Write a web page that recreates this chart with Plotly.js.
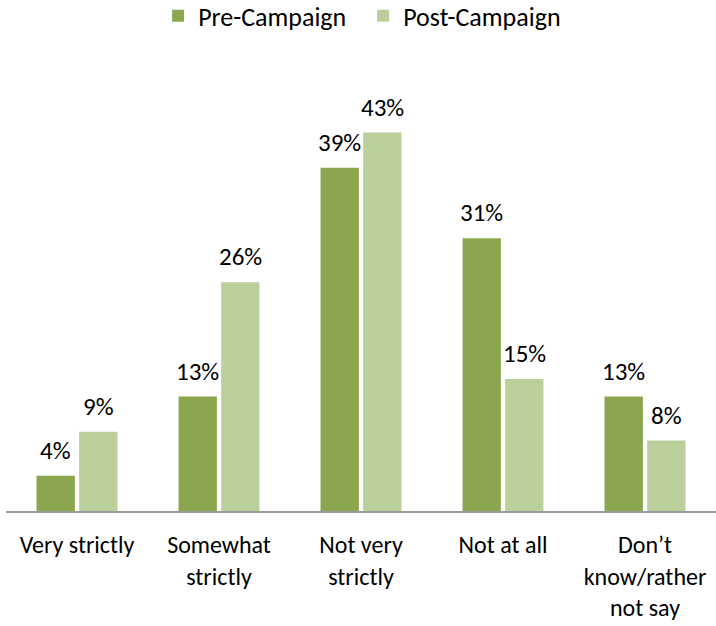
<!DOCTYPE html>
<html>
<head>
<meta charset="utf-8">
<script src="https://cdn.plot.ly/plotly-3.0.1.min.js"></script>
<style>html,body{margin:0;padding:0;background:#fff;}#chart{width:716px;height:626px;}</style>
</head>
<body>
<div id="chart"></div>
<script>
const categories = ["Very strictly", "Somewhat<br>strictly", "Not very<br>strictly", "Not at all", "Don’t<br>know/rather<br>not say"];
const preCampaign = [4, 13, 39, 31, 13];
const postCampaign = [9, 26, 43, 15, 8];
const seriesNames = ["Pre-Campaign", "Post-Campaign"];
const colors = ["#8AA64E", "#BAD09A"];
const fontFam = "Carlito, Lato, 'Open Sans', sans-serif";

const bargap = 0.4, bargroupgap = 0.1;
const slot = (1 - bargap) / 2;
const offsets = [-slot / 2, slot / 2];

const mk = (vals, i) => ({
  type: 'bar', name: seriesNames[i], x: categories, y: vals,
  marker: {color: colors[i]},
  hoverinfo: 'none'
});

const annotations = [];
[preCampaign, postCampaign].forEach((vals, s) => {
  vals.forEach((v, i) => {
    annotations.push({
      xref: 'x', yref: 'y', x: i + offsets[s], y: v,
      text: v + '%', showarrow: false, yanchor: 'bottom', yshift: 8,
      font: {family: fontFam, size: 25, color: '#000'}
    });
  });
});

Plotly.newPlot('chart', [mk(preCampaign, 0), mk(postCampaign, 1)], {
  width: 716, height: 626,
  margin: {l: 6, r: 0, t: 115, b: 115, autoexpand: false},
  barmode: 'group', bargap: bargap, bargroupgap: bargroupgap,
  paper_bgcolor: '#fff', plot_bgcolor: '#fff',
  font: {family: fontFam, size: 25, color: '#000'},
  showlegend: true,
  legend: {orientation: 'h', xref: 'paper', yref: 'paper', x: 0.503, xanchor: 'center', y: 1.31, yanchor: 'top',
           font: {family: fontFam, size: 26, color: '#000'}, itemwidth: 30, tracegroupgap: 0,
           entrywidth: 160},
  annotations: annotations,
  xaxis: {showline: true, linecolor: '#9A9A9A', linewidth: 1.5, ticks: '', showgrid: false, zeroline: false,
          ticklabelstandoff: 12,
          tickfont: {family: fontFam, size: 24, color: '#000'}, fixedrange: true},
  yaxis: {range: [0, 45], visible: false, showgrid: false, zeroline: false, fixedrange: true}
}, {displayModeBar: false, staticPlot: true});
</script>
</body>
</html>
